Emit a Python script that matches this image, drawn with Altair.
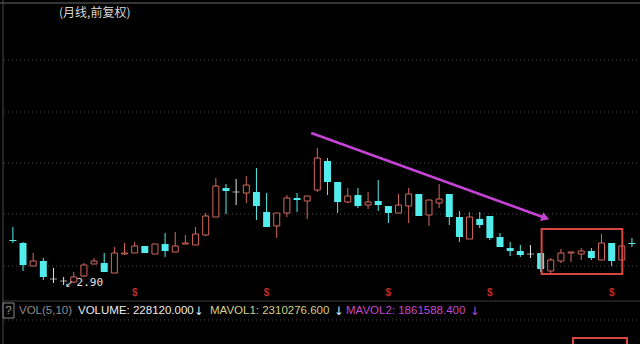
import altair as alt
import pandas as pd

# Monthly OHLC (forward-adjusted prices)
opens = [3.80, 3.74, 3.28, 3.38, 3.02, 2.98, 2.96, 3.08, 3.32, 3.34,
         3.14, 3.52, 3.54, 3.68, 3.52, 3.72, 3.56, 3.72, 3.70, 3.90,
         4.26, 4.84, 4.76, 4.74, 4.76, 4.36, 4.08, 4.34, 4.64, 4.58,
         4.80, 5.38, 4.96, 4.56, 4.70, 4.50, 4.58, 4.48, 4.34, 4.48,
         4.72, 4.30, 4.54, 4.72, 4.26, 3.82, 4.22, 4.28, 3.86, 3.64,
         3.58, 3.52, 3.54, 3.18, 3.38, 3.54, 3.52, 3.58, 3.40, 3.74,
         3.40, 3.74]
highs = [4.06, 3.76, 3.54, 3.44, 3.24, 3.06, 3.16, 3.34, 3.44, 3.54,
         3.66, 3.74, 3.76, 3.68, 3.72, 3.94, 3.96, 3.90, 4.06, 4.34,
         5.04, 4.92, 5.02, 5.08, 5.24, 4.74, 4.34, 4.70, 4.74, 4.68,
         5.64, 5.44, 4.96, 4.84, 4.84, 4.76, 5.00, 4.48, 4.72, 4.84,
         4.72, 4.60, 4.92, 4.72, 4.38, 4.36, 4.36, 4.28, 3.94, 3.76,
         3.70, 3.70, 3.54, 3.44, 3.62, 3.56, 3.64, 3.64, 3.92, 3.74,
         3.70, 3.84]
lows = [3.74, 3.18, 3.28, 3.00, 2.94, 2.90, 2.94, 3.06, 3.32, 3.16,
        3.14, 3.50, 3.54, 3.54, 3.52, 3.46, 3.56, 3.72, 3.70, 3.88,
        4.26, 4.32, 4.50, 4.54, 4.20, 4.06, 3.84, 4.26, 4.36, 4.22,
        4.76, 4.70, 4.34, 4.54, 4.44, 4.42, 4.38, 4.14, 4.34, 4.14,
        4.28, 4.08, 4.44, 4.10, 3.76, 3.82, 4.04, 3.80, 3.66, 3.48,
        3.46, 3.44, 3.16, 3.14, 3.34, 3.36, 3.40, 3.40, 3.40, 3.28,
        3.40, 3.66]
closes = [3.78, 3.30, 3.38, 3.06, 3.02, 2.98, 3.06, 3.30, 3.38, 3.16,
          3.54, 3.54, 3.68, 3.54, 3.72, 3.58, 3.68, 3.74, 3.92, 4.28,
          4.88, 4.78, 4.76, 4.90, 4.48, 4.06, 4.34, 4.64, 4.60, 4.68,
          5.44, 4.96, 4.56, 4.68, 4.48, 4.56, 4.50, 4.34, 4.50, 4.72,
          4.28, 4.60, 4.62, 4.26, 3.86, 4.26, 4.10, 3.84, 3.66, 3.58,
          3.50, 3.52, 3.22, 3.40, 3.54, 3.56, 3.58, 3.44, 3.74, 3.38,
          3.68, 3.72]

# Months carrying a dividend/split marker
dividend_months = [12, 25, 37, 47, 59]

# Trend arrow and highlighted consolidation zone
arrow_i = [29.4, 52.2]
arrow_p = [5.94, 4.26]
arrow_tip_i = [52.35]
arrow_tip_p = [4.25]
zone_i = [52.1, 60.05]
zone_p = [4.02, 3.12]

# Price grid levels
grid_levels = [7.40, 6.36, 5.34, 4.32, 3.28]

low_label = "2.90"
low_month = 5

RED = "#d4685c"
CYAN = "#52ecec"
WHITE = "#e4e4e4"
PURPLE = "#c544d6"
BOX = "#d8463f"

n = len(opens)
df = pd.DataFrame({"i": list(range(n)), "o": opens, "h": highs, "l": lows, "c": closes})
df["dir"] = ["up" if c > o else ("down" if c < o else "flat") for o, c in zip(opens, closes)]

xs = alt.Scale(domain=[-0.776, 61.30], nice=False, zero=False)
ys = alt.Scale(domain=[1.72, 8.60], nice=False, zero=False)


def X(f):
    return alt.X(f, type="quantitative", scale=xs, axis=None)


def Y(f):
    return alt.Y(f, type="quantitative", scale=ys, axis=None)


color_enc = alt.Color("dir:N", scale=alt.Scale(domain=["up", "down", "flat"], range=[RED, CYAN, WHITE]), legend=None)

base = alt.Chart(df)

grid = alt.Chart(pd.DataFrame({"g": grid_levels})).mark_rule(
    color="#4a4a4a", strokeDash=[1, 3], strokeWidth=1
).encode(y=Y("g"), x=alt.value(4), x2=alt.value(640))

wicks = base.mark_rule(strokeWidth=1).encode(x=X("i"), y=Y("l"), y2=alt.Y2("h"), color=color_enc)

flat_ticks = base.transform_filter("datum.dir == 'flat'").mark_tick(
    orient="horizontal", size=7, thickness=1
).encode(x=X("i"), y=Y("o"), color=color_enc)

down_bodies = base.transform_filter("datum.dir == 'down'").mark_bar(size=7, color=CYAN).encode(
    x=X("i"), y=Y("o"), y2=alt.Y2("c")
)

up_bodies = base.transform_filter("datum.dir == 'up'").mark_bar(
    size=6, fill="#000000", stroke=RED, strokeWidth=1
).encode(x=X("i"), y=Y("o"), y2=alt.Y2("c"))

arrow_line = alt.Chart(pd.DataFrame({"i": arrow_i, "p": arrow_p})).mark_line(
    color=PURPLE, strokeWidth=2.5
).encode(x=X("i"), y=Y("p"))

arrow_head = alt.Chart(pd.DataFrame({"i": arrow_tip_i, "p": arrow_tip_p})).mark_point(
    shape="triangle", angle=110, filled=True, size=85, color=PURPLE, opacity=1
).encode(x=X("i"), y=Y("p"))

zone = alt.Chart(pd.DataFrame({"i1": [zone_i[0]], "i2": [zone_i[1]], "p1": [zone_p[0]], "p2": [zone_p[1]]})).mark_rect(
    fillOpacity=0, stroke=BOX, strokeWidth=2
).encode(x=X("i1"), x2=alt.X2("i2"), y=Y("p1"), y2=alt.Y2("p2"))

low_df = pd.DataFrame({"i": [low_month], "p": [lows[low_month]], "t": [low_label]})
low_text = alt.Chart(low_df).mark_text(
    align="left", baseline="middle", dx=13, dy=-2, fontSize=11, color=WHITE, font="DejaVu Sans Mono"
).encode(x=X("i"), y=Y("p"), text="t:N")
low_pointer = alt.Chart(low_df).mark_text(
    align="left", baseline="middle", dx=1, dy=-1, fontSize=10, color=WHITE, text="↙"
).encode(x=X("i"), y=Y("p"))

dividends = alt.Chart(pd.DataFrame({"i": dividend_months})).mark_text(
    text="$", color="#c02a2a", fontSize=10, fontWeight="bold", baseline="middle"
).encode(x=X("i"), y=alt.value(293))

# Frame lines of the chart window
frame_rows = pd.DataFrame({"k": [0]})
top_line = alt.Chart(frame_rows).mark_rule(color="#6a6a6a", strokeWidth=1).encode(
    x=alt.value(0), x2=alt.value(640), y=alt.value(3)
)
left_line = alt.Chart(frame_rows).mark_rule(color="#4a4a4a", strokeWidth=1).encode(
    x=alt.value(3), y=alt.value(0), y2=alt.value(344)
)
panel_line = alt.Chart(frame_rows).mark_rule(color="#3c3c3c", strokeWidth=1).encode(
    x=alt.value(3), x2=alt.value(640), y=alt.value(301)
)
vol_grid = alt.Chart(frame_rows).mark_rule(color="#4a4a4a", strokeDash=[1, 3]).encode(
    x=alt.value(4), x2=alt.value(640), y=alt.value(320)
)
qbox = alt.Chart(frame_rows).mark_rect(fillOpacity=0, stroke="#8a8a8a", strokeWidth=1).encode(
    x=alt.value(3), x2=alt.value(14), y=alt.value(303), y2=alt.value(318)
)
vol_box = alt.Chart(frame_rows).mark_rect(fillOpacity=0, stroke=BOX, strokeWidth=2).encode(
    x=alt.value(573), x2=alt.value(627), y=alt.value(338), y2=alt.value(352)
)

texts = [
    ("(月线,前复权)", 59, 13, "#d8d8d8", "left", 12, "Noto Sans CJK SC"),
    ("?", 8.5, 311, "#a0a0a0", "center", 11.5, "Liberation Sans"),
    ("VOL(5,10)", 19, 311, "#8c8c8c", "left", 11.5, "Liberation Sans"),
    ("VOLUME: 228120.000", 78, 311, "#ececec", "left", 11.5, "Liberation Sans"),
    ("↓", 199, 312, "#ececec", "center", 11.5, "DejaVu Sans"),
    ("MAVOL1: 2310276.600", 210, 311, "#d6cf86", "left", 11.5, "Liberation Sans"),
    ("↓", 339, 312, "#ececec", "center", 11.5, "DejaVu Sans"),
    ("MAVOL2: 1861588.400", 346, 311, "#c548cf", "left", 11.5, "Liberation Sans"),
    ("↓", 475, 312, "#c548cf", "center", 11.5, "DejaVu Sans"),
]
text_layers = []
for label, tx, ty, col, al, fs, fnt in texts:
    text_layers.append(
        alt.Chart(pd.DataFrame({"t": [label]})).mark_text(
            align=al, baseline="middle", color=col, fontSize=fs, font=fnt
        ).encode(x=alt.value(tx), y=alt.value(ty), text="t:N")
    )

chart = alt.layer(
    grid, vol_grid, top_line, left_line, panel_line,
    wicks, flat_ticks, down_bodies, up_bodies,
    arrow_line, arrow_head, zone, vol_box, qbox,
    low_pointer, low_text, dividends, *text_layers
).properties(
    width=640, height=344, background="#000000", padding=0,
    autosize=alt.AutoSizeParams(type="none")
).configure_view(stroke=None)

chart.save("out.html", embed_options={"renderer": "svg", "actions": False})
